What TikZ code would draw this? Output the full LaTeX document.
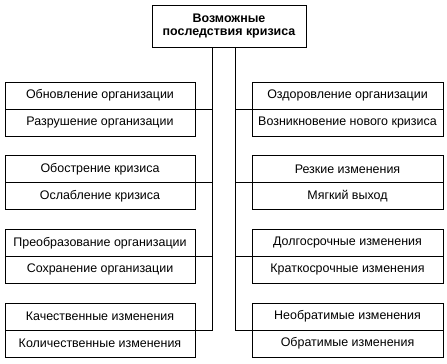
\documentclass[tikz,border=0pt]{standalone}
\usepackage{fontspec}
\setmainfont{Liberation Sans}
\usetikzlibrary{positioning}

\begin{document}
\begin{tikzpicture}[x=1bp, y=1bp, node distance=19.7bp, line width=0.9bp, every node/.style={font=\fontsize{12.5}{13}\selectfont}, half/.style={draw,minimum width=190bp,minimum height=27bp,inner sep=0pt,outer sep=0pt,align=center}, halfr/.style={half,minimum width=191bp}]
\useasboundingbox (0,0) rectangle (447,363);
\node[draw,minimum width=154bp,minimum height=42bp,inner sep=0pt,align=center,font=\fontsize{12.5}{13}\selectfont\bfseries] (title) at (229,337) {Возможные\\последствия кризиса};
% left column
\node[half] (l1a) at (100,267.5) {Обновление организации};
\node[half,below=0pt of l1a] (l1b) {Разрушение организации};
\node[half,below=of l1b] (l2a) {Обострение кризиса};
\node[half,below=0pt of l2a] (l2b) {Ослабление кризиса};
\node[half,below=of l2b] (l3a) {Преобразование организации};
\node[half,below=0pt of l3a] (l3b) {Сохранение организации};
\node[half,below=of l3b] (l4a) {Качественные изменения};
\node[half,below=0pt of l4a] (l4b) {Количественные изменения};
% right column
\node[halfr] (r1a) at (347.5,267.5) {Оздоровление организации};
\node[halfr,below=0pt of r1a] (r1b) {Возникновение нового кризиса};
\node[halfr,below=of r1b] (r2a) {Резкие изменения};
\node[halfr,below=0pt of r2a] (r2b) {Мягкий выход};
\node[halfr,below=of r2b] (r3a) {Долгосрочные изменения};
\node[halfr,below=0pt of r3a] (r3b) {Краткосрочные изменения};
\node[halfr,below=of r3b] (r4a) {Необратимые изменения};
\node[halfr,below=0pt of r4a] (r4b) {Обратимые изменения};
% connectors
\coordinate (jl) at (212,0);
\coordinate (jr) at (235.5,0);
\draw (title.south -| jl) |- (l4a.south east);
\draw (title.south -| jr) |- (r4a.south west);
\draw (l1a.south east) -- (l1a.south east -| jl);
\draw (l2a.south east) -- (l2a.south east -| jl);
\draw (l3a.south east) -- (l3a.south east -| jl);
\draw (r1a.south west) -- (r1a.south west -| jr);
\draw (r2a.south west) -- (r2a.south west -| jr);
\draw (r3a.south west) -- (r3a.south west -| jr);
\end{tikzpicture}
\end{document}
